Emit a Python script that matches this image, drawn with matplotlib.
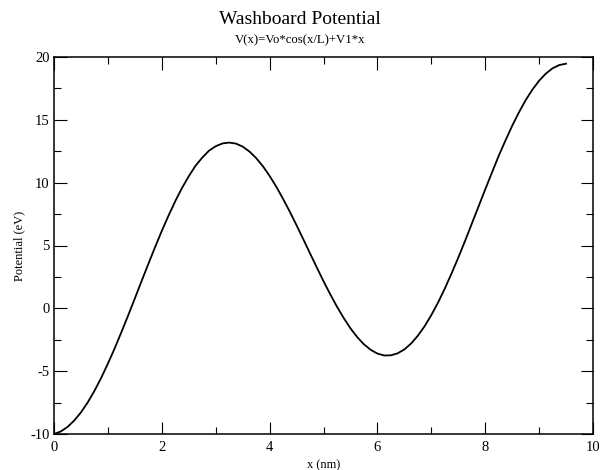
import matplotlib
matplotlib.use('Agg')
import matplotlib.pyplot as plt
from matplotlib.ticker import MultipleLocator

# values
x_nm = [0, 0.125, 0.25, 0.375, 0.5, 0.625, 0.75, 0.875, 1.0, 1.125, 1.25, 1.375,
        1.5, 1.625, 1.75, 1.875, 2.0, 2.125, 2.25, 2.375, 2.5, 2.625, 2.75, 2.875,
        3.0, 3.125, 3.25, 3.375, 3.5, 3.625, 3.75, 3.875, 4.0, 4.125, 4.25, 4.375,
        4.5, 4.625, 4.75, 4.875, 5.0, 5.125, 5.25, 5.375, 5.5, 5.625, 5.75, 5.875,
        6.0, 6.125, 6.25, 6.375, 6.5, 6.625, 6.75, 6.875, 7.0, 7.125, 7.25, 7.375,
        7.5, 7.625, 7.75, 7.875, 8.0, 8.125, 8.25, 8.375, 8.5, 8.625, 8.75, 8.875,
        9.0, 9.125, 9.25, 9.375, 9.5]
v_ev = [-10.00, -9.80, -9.44, -8.93, -8.28, -7.49, -6.57, -5.54, -4.40, -3.19,
        -1.90, -0.57, 0.79, 2.17, 3.53, 4.87, 6.16, 7.38, 8.53, 9.58, 10.51, 11.34,
        11.99, 12.54, 12.90, 13.12, 13.19, 13.11, 12.87, 12.48, 11.96, 11.31, 10.54,
        9.67, 8.71, 7.69, 6.61, 5.50, 4.37, 3.26, 2.16, 1.12, 0.13, -0.77, -1.59,
        -2.29, -2.86, -3.30, -3.60, -3.75, -3.74, -3.58, -3.27, -2.80, -2.18, -1.43,
        -0.54, 0.46, 1.57, 2.77, 4.03, 5.35, 6.72, 8.09, 9.46, 10.80, 12.13, 13.35,
        14.52, 15.59, 16.56, 17.40, 18.11, 18.68, 19.10, 19.36, 19.47]

plt.rcParams['font.family'] = ['Liberation Serif', 'DejaVu Serif']
plt.rcParams['axes.unicode_minus'] = False

fig = plt.figure(figsize=(6, 4.7), dpi=100)
ax = fig.add_axes([54 / 600, 1 - 434 / 470, (593 - 54) / 600, (434 - 57) / 470])

ax.plot(x_nm, v_ev, color='black', lw=1.3, solid_joinstyle='round')
ax.set_xlim(0, 10)
ax.set_ylim(-10, 20)
ax.xaxis.set_major_locator(MultipleLocator(2))
ax.xaxis.set_minor_locator(MultipleLocator(1))
ax.yaxis.set_major_locator(MultipleLocator(5))
ax.yaxis.set_minor_locator(MultipleLocator(2.5))
ax.tick_params(which='both', direction='in', top=True, right=True, labelsize=10.5, width=0.8)
ax.tick_params(which='major', length=9, pad=3)
ax.tick_params(axis='x', which='major', pad=5)
ax.tick_params(which='minor', length=5)
for s in ax.spines.values():
    s.set_linewidth(1.1)

ax.set_xlabel('x (nm)', fontsize=9, labelpad=4)
ax.set_ylabel('Potential (eV)', fontsize=9, labelpad=4)
fig.text(0.5, 1 - 19 / 470, 'Washboard Potential', ha='center', va='center', fontsize=14)
fig.text(0.5, 1 - 40 / 470, 'V(x)=Vo*cos(x/L)+V1*x', ha='center', va='center', fontsize=9.2)

fig.savefig('out.png', dpi=100)
